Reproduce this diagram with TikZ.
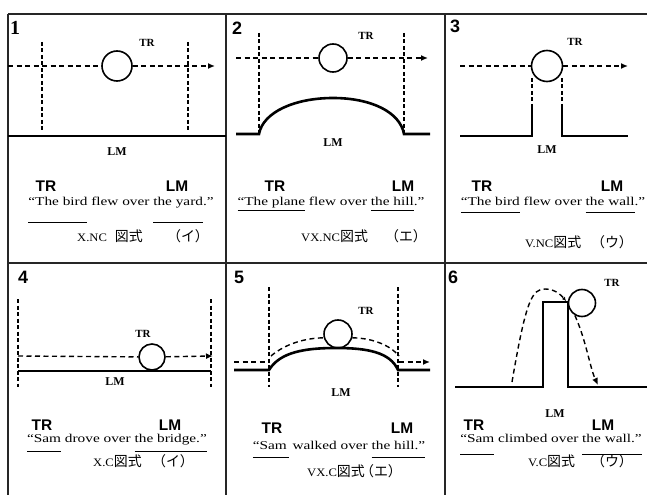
\documentclass[tikz,border=0pt]{standalone}
\usepackage{fontspec}
\setmainfont{Liberation Serif}
\setsansfont{Liberation Sans}
\newfontfamily\cjk{Noto Sans CJK JP}
\newfontfamily\sentfont[FakeStretch=1.28]{Liberation Serif}
\newfontfamily\captfont[FakeStretch=1.1]{Liberation Serif}
\usetikzlibrary{arrows.meta}
\newcommand\ulof[2]{\setbox0\hbox{#2}\rlap{\vrule height -#1 depth \dimexpr#1+0.9bp\relax width \wd0}\box0\relax}
\newcommand\jp[1]{{\cjk\fontsize{14}{14}\selectfont #1}}
\tikzset{
 frm/.style={line width=1.3bp, black!85},
 lmline/.style={line width=2.6bp},
 dsh/.style={line width=1.4bp, dash pattern=on 5bp off 3.5bp},
 vdsh/.style={line width=1.3bp, dash pattern=on 4bp off 2.5bp},
 ball/.style={circle, draw, line width=1.6bp, inner sep=0pt, minimum size=#1},
 arr/.style={-{Latex[length=7bp,width=6bp]}},
 num/.style={font=\sffamily\bfseries\fontsize{18}{18}\selectfont, inner sep=0pt},
 trs/.style={font=\bfseries\fontsize{11}{11}\selectfont, inner sep=0pt},
 lms/.style={font=\bfseries\fontsize{12}{12}\selectfont, inner sep=0pt},
 big/.style={font=\sffamily\bfseries\fontsize{15.5}{15.5}\selectfont, inner sep=0pt},
 sent/.style={font=\sentfont\fontsize{12}{13}\selectfont, inner sep=0pt, anchor=base},
 capt/.style={font=\captfont\fontsize{11.5}{12}\selectfont, inner sep=0pt, anchor=base west},
 capj/.style={font=\cjk\fontsize{14}{14}\selectfont, inner sep=0pt, anchor=base},
}
\begin{document}
\begin{tikzpicture}[x=1bp,y=-1bp]
\fill[white] (0,0) rectangle (647,495);
\useasboundingbox (0,0) rectangle (647,495);
% frame
\coordinate (f1) at (8,14); \coordinate (f2) at (647,14);
\coordinate (f3) at (8,495); \coordinate (f4) at (226,14); \coordinate (f5) at (226,495);
\coordinate (f6) at (445,14); \coordinate (f7) at (445,495);
\coordinate (f8) at (8,263); \coordinate (f9) at (647,263);
\draw[frm] (f1) -- (f2); \draw[frm] (f1) -- (f3);
\draw[frm] (f4) -- (f5); \draw[frm] (f6) -- (f7); \draw[frm] (f8) -- (f9);

% ---------- Panel 1
\node[inner sep=0pt, font=\bfseries\fontsize{20}{20}\selectfont] (n1) at (15,28) {1};
\coordinate (v1a) at (42,42); \coordinate (v1b) at (42,130);
\coordinate (v1c) at (188,42); \coordinate (v1d) at (188,130);
\draw[vdsh] (v1a) -- (v1b); \draw[vdsh] (v1c) -- (v1d);
\coordinate (a1) at (8,66); \node[ball=30bp] (c1) at (117,66) {}; \coordinate (b1) at (215,66);
\draw[dsh] (a1) -- (c1); \draw[dsh,arr] (c1) -- (b1);
\coordinate (g1a) at (8,136); \coordinate (g1b) at (226,136);
\draw[lmline] (g1a) -- (g1b);
\node[trs] (t1) at (147,43) {TR};
\node[lms] (l1) at (117,152) {LM};
\node[big] (T1) at (46,186) {TR};
\node[big] (L1) at (177,186) {LM};
\node[sent] (s1) at (121,206) {\ulof{16bp}{“The bird} flew over \ulof{16bp}{the yard}.”};
\node[capt] (k1) at (77,242) {X.NC\hspace{8bp}\jp{図式}};
\node[capj] (p1) at (188,242) {（イ）};

% ---------- Panel 2
\node[num] (n2) at (237,28) {2};
\coordinate (v2a) at (259,33); \coordinate (v2b) at (259,134);
\coordinate (v2c) at (404,33); \coordinate (v2d) at (404,134);
\draw[vdsh] (v2a) -- (v2b); \draw[vdsh] (v2c) -- (v2d);
\coordinate (a2) at (236,58); \node[ball=28bp] (c2) at (333,58) {}; \coordinate (b2) at (428,58);
\draw[dsh] (a2) -- (c2); \draw[dsh,arr] (c2) -- (b2);
\coordinate (g2a) at (236,134); \coordinate (g2b) at (430,134);
\draw[lmline] (g2a) -- (v2b) .. controls (263,112) and (295,98) .. (333,98)
  .. controls (371,98) and (400,112) .. (v2d) -- (g2b);
\node[trs] (t2) at (366,36) {TR};
\node[lms] (l2) at (333,143) {LM};
\node[big] (T2) at (275,186) {TR};
\node[big] (L2) at (403,186) {LM};
\node[sent] (s2) at (331,206) {\ulof{4bp}{“The plane} flew over \ulof{4bp}{the hill}.”};
\node[capt] (k2) at (301,242) {VX.NC\jp{図式}};
\node[capj] (p2) at (406,242) {（エ）};

% ---------- Panel 3
\node[num] (n3) at (455,26) {3};
\coordinate (a3) at (460,66); \node[ball=31bp] (c3) at (547,66) {}; \coordinate (b3) at (628,66);
\draw[dsh] (a3) -- (c3); \draw[dsh,arr] (c3) -- (b3);
\coordinate (v3a) at (532,78); \coordinate (v3b) at (532,107);
\coordinate (v3c) at (562,78); \coordinate (v3d) at (562,107);
\draw[vdsh] (v3a) -- (v3b); \draw[vdsh] (v3c) -- (v3d);
\coordinate (g3a) at (460,136); \coordinate (g3b) at (532,136);
\coordinate (g3c) at (562,136); \coordinate (g3d) at (628,136);
\draw[lmline] (g3a) -- (g3b) -- (v3b);
\draw[lmline] (v3d) -- (g3c) -- (g3d);
\node[trs] (t3) at (575,42) {TR};
\node[lms] (l3) at (547,150) {LM};
\node[big] (T3) at (482,186) {TR};
\node[big] (L3) at (612,186) {LM};
\node[sent] (s3) at (553,206) {\ulof{6bp}{“The bird} flew over \ulof{6bp}{the wall}.”};
\node[capt] (k3) at (525,248) {V.NC\jp{図式}};
\node[capj] (p3) at (612,248) {（ウ）};

% ---------- Panel 4
\node[num] (n4) at (23,277) {4};
\coordinate (v4a) at (18,299); \coordinate (v4b) at (18,387);
\coordinate (v4c) at (211,299); \coordinate (v4d) at (211,387);
\draw[vdsh] (v4a) -- (v4b); \draw[vdsh] (v4c) -- (v4d);
\coordinate (a4) at (18,356); \node[ball=26bp] (c4) at (152,357) {}; \coordinate (b4) at (213,356);
\draw[dsh] (a4) -- (c4); \draw[dsh,arr] (c4) -- (b4);
\coordinate (g4a) at (18,371); \coordinate (g4b) at (211,371);
\draw[lmline] (g4a) -- (g4b);
\node[trs] (t4) at (143,334) {TR};
\node[lms] (l4) at (115,382) {LM};
\node[big] (T4) at (42,425) {TR};
\node[big] (L4) at (170,425) {LM};
\node[sent] (s4) at (117,442) {\ulof{9bp}{“Sam} drove over \ulof{9bp}{the bridge.”}};
\node[capt] (k4) at (93,466) {X.C\jp{図式}};
\node[capj] (p4) at (173,466) {（イ）};

% ---------- Panel 5
\node[num] (n5) at (239,277) {5};
\coordinate (v5a) at (269,287); \coordinate (v5b) at (269,387);
\coordinate (v5c) at (398,287); \coordinate (v5d) at (398,387);
\draw[vdsh] (v5a) -- (v5b); \draw[vdsh] (v5c) -- (v5d);
\coordinate (g5a) at (234,370); \coordinate (g5b) at (269,370);
\coordinate (g5c) at (398,370); \coordinate (g5d) at (430,370);
\draw[lmline] (g5a) -- (g5b) .. controls (280,352) and (305,348) .. (336,348)
  .. controls (367,348) and (390,352) .. (g5c) -- (g5d);
\node[ball=28bp] (c5) at (338,334) {};
\coordinate (a5) at (234,362); \coordinate (a5b) at (269,362);
\coordinate (b5a) at (399,362); \coordinate (b5) at (430,362);
\coordinate (e5a) at (271,356); \coordinate (e5b) at (399,356);
\draw[dsh] (a5) -- (a5b);
\draw[dsh] (e5a) .. controls (285,344) and (305,338) .. (c5.195);
\draw[dsh] (c5.345) .. controls (372,338) and (390,345) .. (e5b);
\draw[dsh,arr] (b5a) -- (b5);
\node[trs] (t5) at (366,311) {TR};
\node[lms] (l5) at (341,393) {LM};
\node[big] (T5) at (272,428) {TR};
\node[big] (L5) at (402,428) {LM};
\node[sent] (s5) at (339,449) {\ulof{8bp}{“Sam\,} walked over \ulof{8bp}{the hill.”}};
\node[capt] (k5) at (307,476) {VX.C\jp{図式}};
\node[capj] (p5) at (381,476) {（エ）};

% ---------- Panel 6
\node[num] (n6) at (453,277) {6};
\coordinate (g6a) at (455,387); \coordinate (g6b) at (543,387);
\coordinate (g6c) at (543,302); \coordinate (g6d) at (568,302);
\coordinate (g6e) at (568,387); \coordinate (g6f) at (647,387);
\draw[lmline] (g6a) -- (g6b) -- (g6c) -- (g6d) -- (g6e) -- (g6f);
\node[ball=27bp] (c6) at (582,303) {};
\coordinate (d6a) at (512,382); \coordinate (d6b) at (566,301); \coordinate (d6c) at (598,385);
\draw[dsh, -{Latex[length=4bp,width=4bp]}] (d6a) .. controls (526,300) and (532,289) .. (545,289)
  .. controls (555,289) and (561,295) .. (d6b);
\draw[dsh,arr] (c6.240) .. controls (586,340) and (590,368) .. (d6c);
\node[trs] (t6) at (612,283) {TR};
\node[lms] (l6) at (555,414) {LM};
\node[big] (T6) at (474,425) {TR};
\node[big] (L6) at (603,425) {LM};
\node[sent] (s6) at (551,442) {\ulof{12bp}{“Sam} climbed over \ulof{12bp}{the wall.”}};
\node[capt] (k6) at (528,466) {V.C\jp{図式}};
\node[capj] (p6) at (612,466) {（ウ）};
\end{tikzpicture}
\end{document}
